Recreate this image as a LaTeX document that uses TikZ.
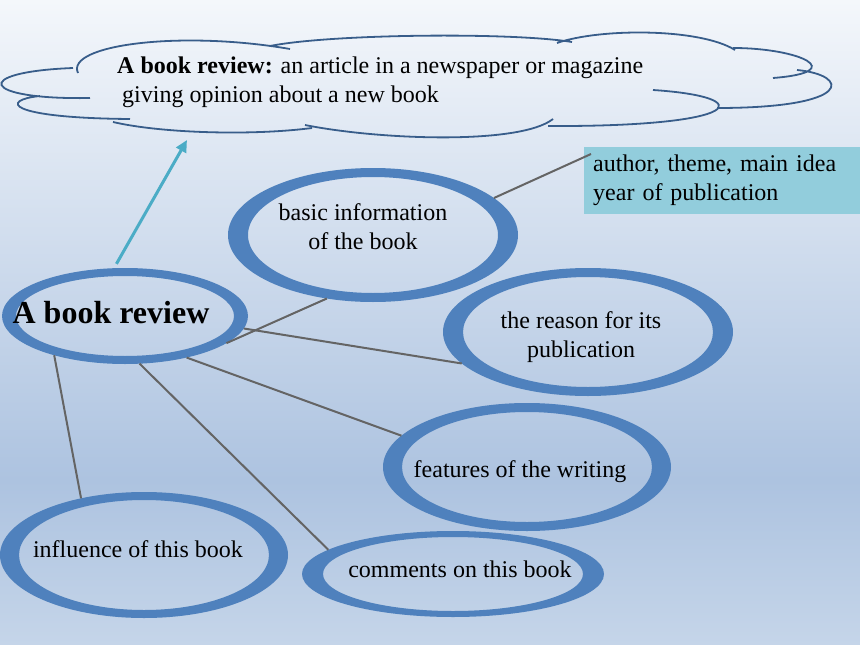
\documentclass[tikz,border=0pt]{standalone}
\usepackage{fontspec}
\setmainfont{Liberation Serif}
\usetikzlibrary{shapes.geometric,arrows.meta}

\definecolor{ringblue}{HTML}{4F81BD}
\definecolor{cloudblue}{HTML}{385D8A}
\definecolor{arrowteal}{HTML}{4BACC6}
\definecolor{infoteal}{HTML}{92CDDC}
\definecolor{linkgray}{HTML}{646464}
\definecolor{bgtop}{RGB}{244,247,251}
\definecolor{bgmid}{RGB}{173,195,224}
\definecolor{bgbot}{RGB}{197,213,233}

\begin{document}
\begin{tikzpicture}[x=1pt,y=-1pt,
    ring/.style={ellipse,inner sep=0pt,outer sep=0pt},
    link/.style={linkgray,line width=2pt},
    txt/.style={inner sep=0pt,font=\fontsize{24}{29}\selectfont,align=center}]

      \useasboundingbox (0,0) rectangle (860,645);
      \shade[top color=bgtop,bottom color=bgmid] (0,0) rectangle (860,480); % background
      \shade[top color=bgmid,bottom color=bgbot] (0,480) rectangle (860,645);

      \draw[cloudblue,line width=1.8pt] % cloud
        (90,98) .. controls (-20,100) and (-30,72) .. (73,68)
        (78,73) .. controls (65,45) and (180,30) .. (290,49)
        (270,46) .. controls (330,34) and (510,32) .. (572,42)
        (557,43) .. controls (600,28) and (700,28) .. (735,50)
        (733,48) .. controls (800,48) and (850,72) .. (773,78)
        (797,70) .. controls (850,75) and (855,108) .. (717,108)
        (653,90) .. controls (760,97) and (745,127) .. (548,126)
        (553,119) .. controls (520,145) and (380,140) .. (305,125)
        (312,128) .. controls (250,136) and (160,133) .. (113,122)
        (40,96) .. controls (0,100) and (5,118) .. (130,119);
      \coordinate (cloudtip) at (187,140);

      \node[fill=infoteal,anchor=north west,minimum width=276pt,minimum height=67pt,
        text width=258pt,inner xsep=9pt,inner ysep=0pt,align=left,
        font=\fontsize{24}{29}\selectfont] (info) at (584,147) {author, theme, main idea\\year of publication};

      \foreach \n/\x/\y/\a/\b/\c/\d in {main/125/316/123/48/109/40, basic/373/235/145/67/125/58,
          reason/588/332/145/64/125/55, features/527/467/144/64/125/55,
          influence/144/555/144/63/125/55, comments/453/574/151/43/130/37}{
        \node[ring,minimum width=2*\a*1pt,minimum height=2*\b*1pt] (\n) at (\x,\y) {};
        \fill[ringblue,even odd rule] (\n.center) ellipse [x radius=\a,y radius=\b]
          ellipse [x radius=\c,y radius=\d];
      }

      \draw[arrowteal,line width=3pt,-{Triangle[length=12pt,width=11pt]},shorten <=5pt]
        (main.103) -- (cloudtip); % to the definition

      \foreach \a/\b in {main.-15/basic.234, main.-6/reason.194, main.-34/features.166,
          main.-73/comments.169, main.209/influence.138}
      \draw[link] (\a) -- (\b);
      \draw[link] (basic.17) -- ([xshift=7pt,yshift=-7pt]info.north west);

      \node[txt,anchor=west,align=left] (cloudT) at (117,82)
        {\textbf{A book review:} an article in a newspaper or magazine\\\hspace*{5pt}giving opinion about a new book};
      \node[txt,anchor=base,font=\fontsize{32}{38}\selectfont\bfseries] (mainT) at (111,323) {A book review};
      \node[txt] (basicT) at (363,227) {basic information\\of the book};
      \node[txt] (reasonT) at (581,337) {the reason for its\\publication};
      \node[txt,anchor=base] (featuresT) at (520,477) {features of the writing};
      \node[txt,anchor=base] (influenceT) at (138,557) {influence of this book};
      \node[txt,anchor=base] (commentsT) at (460,577) {comments on this book};

\end{tikzpicture}
\end{document}
